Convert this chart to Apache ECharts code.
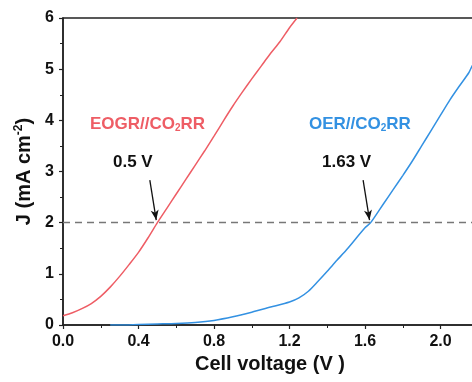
<!DOCTYPE html>
<html>
<head>
<meta charset="utf-8">
<script src="https://cdn.jsdelivr.net/npm/echarts@6/dist/echarts.min.js"></script>
<style>
  html, body { margin: 0; padding: 0; background: #fff; overflow: hidden; width: 472px; height: 382px; }
  /* the plot runs past the right edge of the page, as a cropped figure */
  #chart { width: 520px; height: 382px; }
</style>
</head>
<body>
<div id="chart"></div>
<script>
// Polarization curves: current density J vs. cell voltage
const eogrVoltage = [0.00, 0.05, 0.10, 0.15, 0.20, 0.25, 0.30, 0.35, 0.40, 0.45, 0.50, 0.55, 0.60, 0.65, 0.70, 0.75, 0.80, 0.85, 0.90, 0.95, 1.00, 1.05, 1.10, 1.15, 1.20, 1.24];
const eogrCurrent = [0.18, 0.24, 0.32, 0.42, 0.56, 0.74, 0.95, 1.18, 1.42, 1.70, 2.00, 2.28, 2.56, 2.84, 3.12, 3.40, 3.69, 3.99, 4.28, 4.55, 4.81, 5.06, 5.31, 5.54, 5.81, 6.00];

const oerVoltage = [0.25, 0.30, 0.40, 0.50, 0.60, 0.70, 0.80, 0.90, 1.00, 1.10, 1.20, 1.25, 1.30, 1.35, 1.40, 1.45, 1.50, 1.55, 1.60, 1.63, 1.70, 1.75, 1.80, 1.85, 1.90, 1.95, 2.00, 2.05, 2.10, 2.15, 2.17, 2.25];
const oerCurrent = [0.00, 0.00, 0.01, 0.02, 0.03, 0.05, 0.09, 0.16, 0.25, 0.35, 0.45, 0.53, 0.66, 0.85, 1.05, 1.26, 1.46, 1.68, 1.90, 2.00, 2.38, 2.65, 2.92, 3.20, 3.50, 3.80, 4.10, 4.40, 4.67, 4.93, 5.08, 5.50];

const xTicks = [0.0, 0.4, 0.8, 1.2, 1.6, 2.0, 2.4];
const yTicks = [0, 1, 2, 3, 4, 5, 6];
const referenceCurrent = 2;           // dashed guide at J = 2 mA cm^-2
const onsetVoltages = [0.5, 1.63];    // where each curve reaches the guide

const RED = '#ee5d65';
const BLUE = '#3391e2';
const FONT = '"Liberation Sans", Arial, sans-serif';

const pairs = (xs, ys) => xs.map((x, i) => [x, ys[i]]);

const chart = echarts.init(document.getElementById('chart'), null, { renderer: 'canvas' });

// black arrow pointing down onto the crossing of a curve with the guide
function arrowLine(v) {
  return [
    { coord: [v - 0.04, 2.83], symbol: 'none' },
    { coord: [v - 0.006, referenceCurrent + 0.05], symbol: 'arrow' }
  ];
}

const arrowMarks = v => ({
  silent: true,
  animation: false,
  symbolSize: [6, 10],
  lineStyle: { color: '#111', width: 1.3, type: 'solid' },
  label: { show: false },
  data: [arrowLine(v)]
});

chart.setOption({
  animation: false,
  backgroundColor: '#fff',
  grid: { left: 63, top: 18, bottom: 57, right: 4, outerBoundsMode: 'none', containLabel: false,
    show: true, borderColor: '#222', borderWidth: 1.5 },
  xAxis: {
    type: 'value',
    min: xTicks[0], max: xTicks[xTicks.length - 1], interval: 0.4,
    name: 'Cell voltage (V )',
    nameLocation: 'middle',
    nameGap: 29,
    nameTextStyle: { fontFamily: FONT, fontWeight: 'bold', fontSize: 20, color: '#111', padding: [0, 39, 0, 0] },
    axisLine: { lineStyle: { color: '#222', width: 1.5 } },
    axisTick: { inside: false, length: 4, lineStyle: { color: '#222', width: 1.2 } },
    minorTick: { show: true, splitNumber: 2, length: 3, lineStyle: { color: '#222', width: 1 } },
    axisLabel: { fontFamily: FONT, fontWeight: 'bold', fontSize: 16, color: '#111', margin: 9,
      formatter: v => v.toFixed(1) },
    splitLine: { show: false }
  },
  yAxis: {
    type: 'value',
    min: yTicks[0], max: yTicks[yTicks.length - 1], interval: 1,
    name: 'J (mA cm{sup|-2})',
    nameLocation: 'middle',
    nameGap: 25,
    nameRotate: 90,
    nameTextStyle: { fontFamily: FONT, fontWeight: 'bold', fontSize: 20, color: '#111',
      rich: { sup: { fontFamily: FONT, fontWeight: 'bold', fontSize: 12, color: '#111', verticalAlign: 'top', padding: [0, 0, 11, 0] } } },
    axisLine: { lineStyle: { color: '#222', width: 1.5 } },
    axisTick: { inside: false, length: 4, lineStyle: { color: '#222', width: 1.2 } },
    minorTick: { show: true, splitNumber: 2, length: 3, lineStyle: { color: '#222', width: 1 } },
    axisLabel: { fontFamily: FONT, fontWeight: 'bold', fontSize: 16, color: '#111', margin: 9 },
    splitLine: { show: false }
  },
  series: [
    {
      name: 'EOGR//CO2RR',
      type: 'line',
      data: pairs(eogrVoltage, eogrCurrent),
      showSymbol: false,
      smooth: 0.25,
      clip: true,
      lineStyle: { color: RED, width: 1.5 },
      markLine: arrowMarks(onsetVoltages[0])
    },
    {
      name: 'OER//CO2RR',
      type: 'line',
      data: pairs(oerVoltage, oerCurrent),
      showSymbol: false,
      smooth: 0.25,
      clip: true,
      lineStyle: { color: BLUE, width: 1.5 },
      markLine: arrowMarks(onsetVoltages[1])
    },
    {
      name: 'guide',
      type: 'line',
      data: [],
      markLine: {
        silent: true,
        animation: false,
        symbol: 'none',
        lineStyle: { color: '#777', width: 1.3, type: [7, 5] },
        label: { show: false },
        data: [{ yAxis: referenceCurrent }]
      }
    }
  ],
  graphic: [
    { type: 'text', left: 90, top: 116,
      style: { text: 'EOGR//CO{sub|2}RR', fill: RED, font: 'bold 17px ' + FONT,
        rich: { sub: { fill: RED, font: 'bold 10px ' + FONT, verticalAlign: 'bottom', padding: [6, 0, 0, 0] } } } },
    { type: 'text', left: 309, top: 116,
      style: { text: 'OER//CO{sub|2}RR', fill: BLUE, font: 'bold 17px ' + FONT,
        rich: { sub: { fill: BLUE, font: 'bold 10px ' + FONT, verticalAlign: 'bottom', padding: [6, 0, 0, 0] } } } },
    { type: 'text', left: 113, top: 154,
      style: { text: onsetVoltages[0] + ' V', fill: '#111', font: 'bold 17px ' + FONT } },
    { type: 'text', left: 322, top: 154,
      style: { text: onsetVoltages[1] + ' V', fill: '#111', font: 'bold 17px ' + FONT } }
  ]
});
</script>
</body>
</html>
